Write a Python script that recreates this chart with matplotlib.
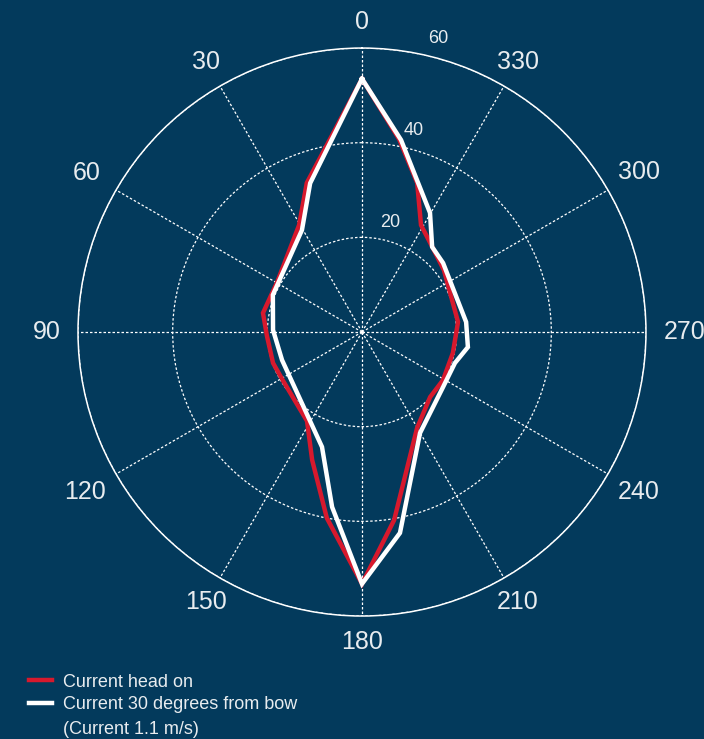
import numpy as np
import matplotlib.pyplot as plt

# Angles in degrees, counterclockwise from bow (0 at top), radius in same units as the chart
head_on_deg = [0, 20.3, 30.5, 59.5, 79.1, 92.4, 109.2, 121.8, 148.3, 158.7, 169.3, 180,
               189.7, 209.8, 226.3, 239.3, 257, 276, 307.1, 320.9, 331.1, 339.7, 349.1, 360]
head_on_r = [53.5, 33.6, 26.2, 20.8, 21.3, 20.1, 19.9, 19.6, 22.1, 29.0, 40.0, 53.2,
             40.3, 23.4, 19.9, 19.9, 19.7, 20.4, 21.7, 23.4, 25.8, 33.6, 41.5, 53.5]

bow30_deg = [0, 19.2, 30.5, 67.4, 88.7, 109.3, 160.8, 170.3, 180,
             190.7, 209.9, 235.8, 251.6, 261.9, 275.5, 310.4, 320.5, 330.3, 348.5, 360]
bow30_r = [53.5, 33.3, 25.0, 20.4, 18.8, 17.9, 25.7, 37.5, 53.2,
           43.2, 24.6, 20.7, 20.7, 22.6, 22.1, 22.5, 23.3, 29.0, 41.4, 53.5]

angle_ticks = list(range(0, 360, 30))
r_ticks = [20, 40, 60]

bg = '#033a5c'
red = '#d7192d'
txt = '#e8ecef'

plt.rcParams['font.family'] = ['Liberation Sans', 'DejaVu Sans']

fig = plt.figure(figsize=(7.04, 7.39), dpi=100, facecolor=bg)
ax = fig.add_axes([0.1108, 0.1664, 0.8068, 0.7686], projection='polar', facecolor=bg)
ax.set_theta_zero_location('N')
ax.set_theta_direction(1)

# Lines: red under white
ax.plot(np.deg2rad(head_on_deg), head_on_r, color=red, lw=3.2, solid_joinstyle='miter',
        label='Current head on', zorder=3)
ax.plot(np.deg2rad(bow30_deg), bow30_r, color='white', lw=3.2, solid_joinstyle='miter',
        label='Current 30 degrees from bow', zorder=4)

ax.set_ylim(0, 60)
ax.set_yticks(r_ticks)
ax.set_yticklabels([])
ax.set_xticks(np.deg2rad(angle_ticks))
ax.set_xticklabels([])
ax.grid(True, color='white', lw=0.9, linestyle=(0, (2, 1.6)))
ax.spines['polar'].set_color('white')
ax.spines['polar'].set_linewidth(1.1)

# angle labels: a fixed gap between the circle and the label edge
fs = 18
gap = 12.5
for a in angle_ticks:
    s = str(a)
    ux, uy = -np.sin(np.deg2rad(a)), np.cos(np.deg2rad(a))
    hw = len(s) * 0.556 * fs / 2
    hh = 0.36 * fs
    d = min(hw / abs(ux) if abs(ux) > 1e-6 else 1e9, hh / abs(uy) if abs(uy) > 1e-6 else 1e9)
    off = gap + d
    ax.annotate(s, xy=(np.deg2rad(a), 60), xytext=(ux * off, uy * off), textcoords='offset points',
                ha='center', va='center', fontsize=fs, color=txt, annotation_clip=False)

# radial labels
for r in r_ticks:
    ax.text(np.deg2rad(345.5), r + 4.0, str(r), ha='center', va='center', fontsize=13, color=txt)

leg = ax.legend(loc='upper left', bbox_to_anchor=(0.031, 0.098), bbox_transform=fig.transFigure,
                frameon=False, fontsize=13, handlelength=1.25, handletextpad=0.62,
                labelspacing=0.3, borderaxespad=0)
for t in leg.get_texts():
    t.set_color(txt)
fig.text(0.0895, 0.0135, '(Current 1.1 m/s)', fontsize=13, color=txt, ha='left', va='center')

plt.savefig('out.png', dpi=100, facecolor=bg)
